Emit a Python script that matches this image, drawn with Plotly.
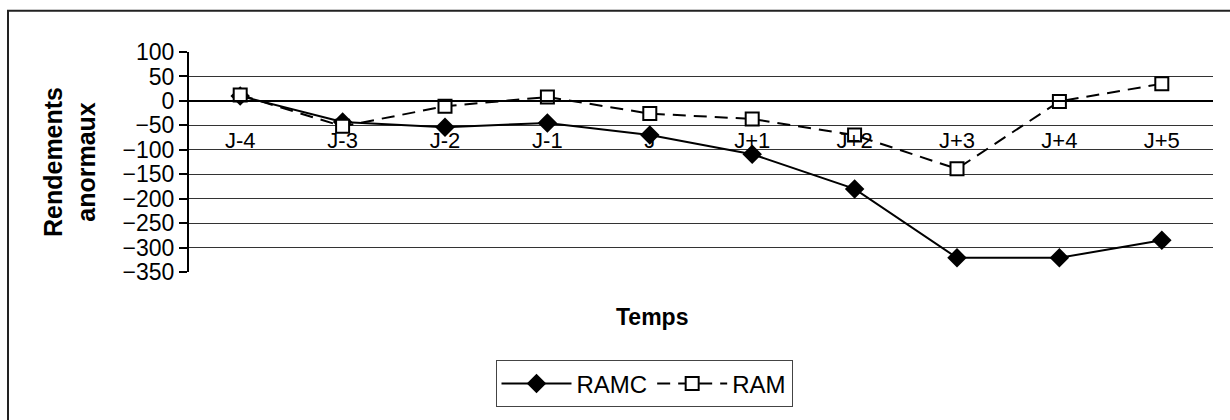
import plotly.graph_objects as go

categories = ["J-4", "J-3", "J-2", "J-1", "J", "J+1", "J+2", "J+3", "J+4", "J+5"]
ramc = [10, -43, -54, -45, -70, -109, -180, -321, -321, -285]
ram = [12, -52, -11, 8, -26, -37, -70, -139, -1, 35]

FONT = "Liberation Sans, Arial, sans-serif"

fig = go.Figure()
fig.add_trace(go.Scatter(
    x=categories, y=ramc, name="RAMC", mode="lines+markers",
    line=dict(color="black", width=2),
    marker=dict(symbol="diamond", size=15, color="black"),
))
fig.add_trace(go.Scatter(
    x=categories, y=ram, name="RAM", mode="lines+markers",
    line=dict(color="black", width=2, dash="13px,8px"),
    marker=dict(symbol="square", size=13, color="white", line=dict(color="black", width=2)),
))

L, R, T, B = 189, 17, 52, 139
W, H = 1230, 420
pw, ph = W - L - R, H - T - B

def px2x(px):
    return (px - L) / pw

def py2y(py):
    return (H - B - py) / ph

fig.update_layout(
    width=W, height=H,
    margin=dict(l=L, r=R, t=T, b=B),
    paper_bgcolor="white", plot_bgcolor="white",
    font=dict(family=FONT, size=23, color="black"),
    showlegend=True,
    legend=dict(
        orientation="h", x=px2x(644), y=py2y(373), xanchor="center", yanchor="top",
        bordercolor="#444", borderwidth=1, font=dict(size=24),
        tracegroupgap=0, itemwidth=70,
    ),
    xaxis=dict(
        type="category", range=[-0.5, 9.5],
        anchor="free", position=350 / 450,
        showline=True, linecolor="black", linewidth=2,
        showgrid=False, ticks="", ticklabelstandoff=20,
        tickfont=dict(size=22),
    ),
    yaxis=dict(
        range=[-350, 100], dtick=50, tick0=0,
        showline=True, linecolor="black", linewidth=2,
        ticks="outside", ticklen=8, tickwidth=2, tickcolor="black",
        showgrid=True, gridcolor="#333", gridwidth=1,
        zeroline=False,
        tickfont=dict(size=23),
        title=dict(text="<b>Rendements<br>anormaux</b>", font=dict(size=25), standoff=20),
    ),
    annotations=[dict(
        text="<b>Temps</b>", x=px2x(652), y=py2y(328), xref="paper", yref="paper",
        showarrow=False, font=dict(size=23), xanchor="center", yanchor="middle",
    )],
    shapes=[dict(
        type="rect", xref="paper", yref="paper",
        x0=px2x(8), x1=px2x(1245), y0=py2y(9), y1=py2y(440),
        line=dict(color="#222", width=2), layer="below",
    )],
)

fig.write_html(
    "out.html",
    config={"displayModeBar": False},
    post_script="document.body.style.margin='0';document.body.style.overflow='hidden';",
)
